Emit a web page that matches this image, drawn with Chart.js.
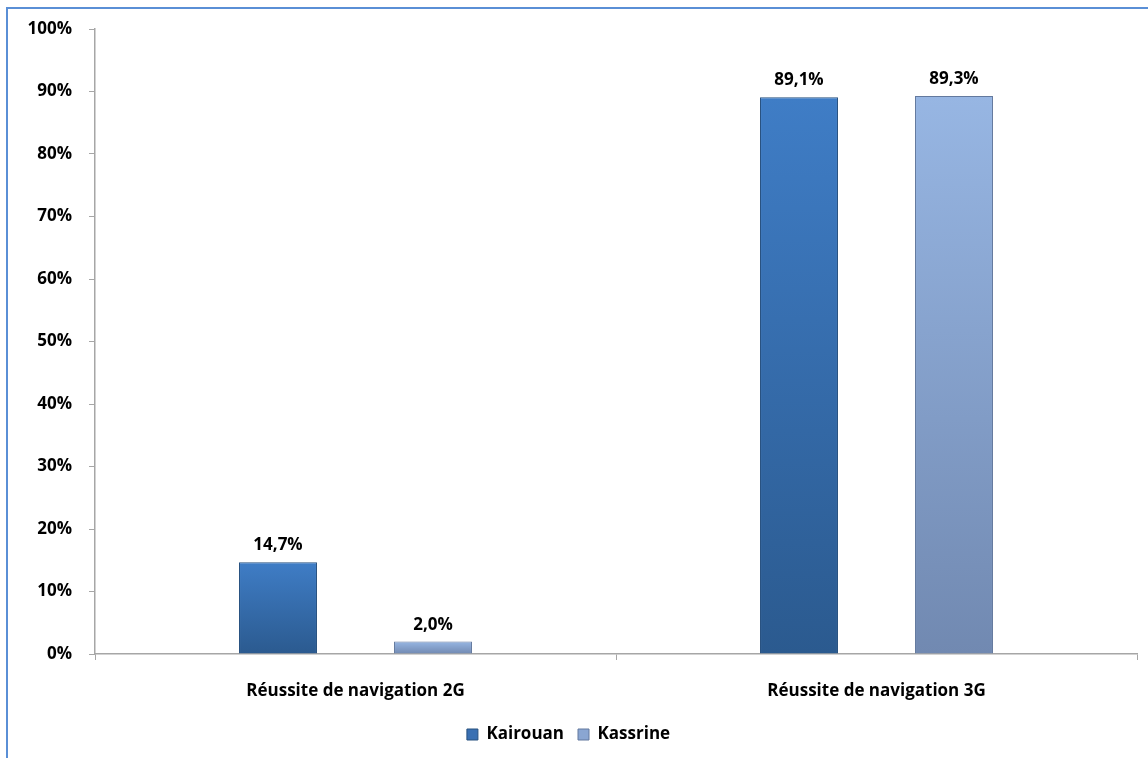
<!DOCTYPE html>
<html>
<head>
<meta charset="utf-8">
<script src="https://cdn.jsdelivr.net/npm/chart.js@4/dist/chart.umd.min.js"></script>
<style>
  body { margin: 0; background: #fff; }
  #wrap { position: relative; width: 1148px; height: 758px; overflow: hidden; }
  #frame { position: absolute; left: 6px; top: 7px; width: 1200px; height: 800px;
           border-left: 2px solid #5a8fd6; border-top: 2px solid #5a8fd6; }
  canvas { position: absolute; left: 0; top: 0; }
</style>
</head>
<body>
<div id="wrap">
  <div id="frame"></div>
  <canvas id="chart" width="1148" height="758"></canvas>
</div>
<script>
// Data
const categories = ['Réussite de navigation 2G', 'Réussite de navigation 3G'];
const kairouan = [14.7, 89.1];
const kassrine = [2.0, 89.3];
const yTicks = [0, 10, 20, 30, 40, 50, 60, 70, 80, 90, 100];

const FONT = "'Open Sans', 'Liberation Sans', sans-serif";
const FSIZE = 17;

// gradient per bar, top light to bottom dark
const barGradient = (top, bottom) => (ctx) => {
  const chart = ctx.chart;
  if (!chart.chartArea || !chart.scales.y) return bottom;
  const y0 = chart.scales.y.getPixelForValue(0);
  const y1 = chart.scales.y.getPixelForValue(ctx.raw || 0);
  if (!isFinite(y0) || !isFinite(y1) || y0 === y1) return bottom;
  const g = chart.ctx.createLinearGradient(0, y1, 0, y0);
  g.addColorStop(0, top);
  g.addColorStop(1, bottom);
  return g;
};

const fmt = (v) => v.toFixed(1).replace('.', ',') + '%';

// labels above bars
const valueLabels = {
  id: 'valueLabels',
  afterDatasetsDraw(chart) {
    const ctx = chart.ctx;
    ctx.save();
    ctx.font = 'bold ' + FSIZE + 'px ' + FONT;
    ctx.fillStyle = '#000';
    ctx.textAlign = 'center';
    ctx.textBaseline = 'bottom';
    chart.data.datasets.forEach((ds, i) => {
      chart.getDatasetMeta(i).data.forEach((bar, j) => {
        ctx.fillText(fmt(ds.data[j]), bar.x, bar.y - 8);
      });
    });
    ctx.restore();
  },
};

const legendColors = ['#3a70b3', '#8aa6d2'];
const legendBorders = ['#26507f', '#63799e'];

const ctx = document.getElementById('chart').getContext('2d');
const myChart = new Chart(ctx, {
  type: 'bar',
  data: {
    labels: categories,
    datasets: [
      {
        label: 'Kairouan',
        data: kairouan,
        backgroundColor: barGradient('#3f7dc6', '#2b5a8f'),
        borderColor: '#26507f',
        borderWidth: 1,
        categoryPercentage: 0.595,
        barPercentage: 0.503,
      },
      {
        label: 'Kassrine',
        data: kassrine,
        backgroundColor: barGradient('#97b6e3', '#7189b1'),
        borderColor: '#63799e',
        borderWidth: 1,
        categoryPercentage: 0.595,
        barPercentage: 0.503,
      },
    ],
  },
  options: {
    responsive: false,
    animation: false,
    layout: { padding: { top: 29, right: 11, left: 0, bottom: 5 } },
    scales: {
      x: {
        grid: {
          drawOnChartArea: false,
          color: '#a6a6a6',
          tickLength: 6,
          offset: true,
        },
        border: { color: '#a6a6a6', width: 1.5 },
        ticks: {
          color: '#000',
          font: { family: FONT, size: FSIZE, weight: 'bold' },
          padding: 21,
        },
        afterFit: (s) => { s.height = 58; },
      },
      y: {
        min: 0,
        max: 100,
        afterBuildTicks: (s) => { s.ticks = yTicks.map((v) => ({ value: v })); },
        grid: {
          drawOnChartArea: false,
          color: '#a6a6a6',
          tickLength: 6,
        },
        border: { color: '#a6a6a6', width: 1.5 },
        ticks: {
          color: '#000',
          font: { family: FONT, size: FSIZE, weight: 'bold' },
          padding: 17,
          callback: (v) => v + '%',
        },
        afterFit: (s) => { s.width = 95; },
      },
    },
    plugins: {
      legend: {
        position: 'bottom',
        labels: {
          color: '#000',
          font: { family: FONT, size: FSIZE, weight: 'bold' },
          boxWidth: 11,
          boxHeight: 11,
          padding: 14,
          generateLabels: (chart) => chart.data.datasets.map((ds, i) => ({
            text: ds.label,
            fillStyle: legendColors[i],
            strokeStyle: legendBorders[i],
            lineWidth: 1,
            fontColor: '#000',
            datasetIndex: i,
          })),
        },
      },
      tooltip: { enabled: false },
    },
  },
  plugins: [valueLabels],
});
</script>
</body>
</html>
